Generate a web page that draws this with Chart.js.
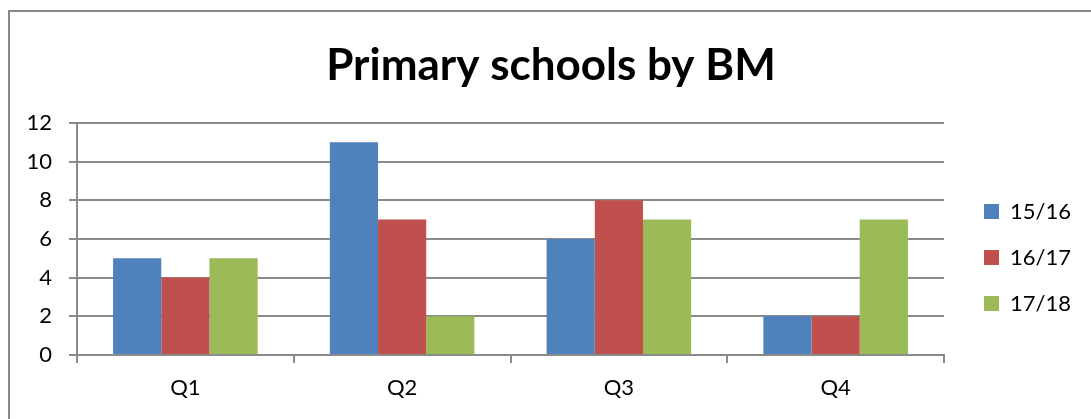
<!DOCTYPE html>
<html>
<head>
<meta charset="utf-8">
<script src="https://cdn.jsdelivr.net/npm/chart.js@4"></script>
<style>
  html, body { margin:0; padding:0; background:#fff; overflow:hidden; }
  #wrap { position:absolute; left:0; top:0; width:1091px; height:419px; }
  #frame { position:absolute; left:8px; top:10px; width:1200px; height:500px;
           border-left:2px solid #898989; border-top:2px solid #898989; pointer-events:none; }
</style>
</head>
<body>
<div id="wrap"><canvas id="chart"></canvas></div>
<div id="frame"></div>
<script>
const quarters = ['Q1', 'Q2', 'Q3', 'Q4'];
const series = ['15/16', '16/17', '17/18'];
const y1516 = [5, 11, 6, 2];
const y1617 = [4, 7, 8, 2];
const y1718 = [5, 2, 7, 7];
const colors = ['#4F81BD', '#C0504D', '#9BBB59'];
const FONT = "Lato, 'Liberation Sans', sans-serif";
const GRID = '#8a8a8a';

Chart.defaults.font.family = FONT;
Chart.defaults.color = '#000';

const values = [y1516, y1617, y1718];

// y labels sit left of the layout padding, and the legend sits a bit further right
const nudge = {
  id: 'nudge',
  afterLayout(chart) {
    chart.scales.y.left = 0;
    chart.legend.left += 16;
    chart.legend.right += 16;
  }
};

new Chart(document.getElementById('chart'), {
  type: 'bar',
  data: {
    labels: quarters,
    datasets: series.map((s, i) => ({
      label: s,
      data: values[i],
      backgroundColor: colors[i],
      borderWidth: 0,
      barPercentage: 1,
      categoryPercentage: 0.667
    }))
  },
  plugins: [nudge],
  options: {
    responsive: true,
    maintainAspectRatio: false,
    animation: false,
    layout: { padding: { left: 37, right: 26, top: 0, bottom: 0 } },
    plugins: {
      title: {
        display: true,
        text: 'Primary schools by BM',
        font: { size: 44, weight: 'bold' },
        color: '#000',
        padding: { top: 39, bottom: 31 }
      },
      legend: {
        position: 'right',
        align: 'center',
        title: { display: true, text: ' ', font: { size: 10 }, padding: { top: 42, bottom: 42 } },
        labels: {
          boxWidth: 15, boxHeight: 15,
          font: { size: 22 },
          padding: 24,
          color: '#000'
        }
      },
      tooltip: { enabled: false }
    },
    scales: {
      x: {
        grid: { display: true, drawOnChartArea: false, drawTicks: true, tickLength: 8, color: GRID, lineWidth: 2, offset: true },
        border: { display: true, color: GRID, width: 2 },
        ticks: { font: { size: 22 }, padding: 12, color: '#000' },
        afterFit: s => { s.height = 64; }
      },
      y: {
        min: 0, max: 12,
        ticks: { stepSize: 2, font: { size: 22 }, padding: 17, color: '#000' },
        grid: { color: GRID, lineWidth: 2, tickLength: 8 },
        border: { display: true, color: GRID, width: 2 },
        afterFit: s => { s.width = 40; }
      }
    }
  }
});
</script>
</body>
</html>
